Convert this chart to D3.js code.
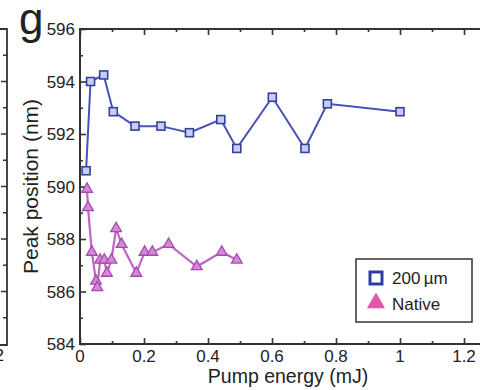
<!DOCTYPE html>
<html>
<head>
<meta charset="utf-8">
<script src="https://cdn.jsdelivr.net/npm/d3@7"></script>
<style>
  html, body { margin: 0; padding: 0; background: #fff; }
  svg { display: block; font-family: "Liberation Sans", Arial, sans-serif; }
</style>
</head>
<body>
<svg id="chart" width="480" height="390"></svg>
<script>
// Peak position vs pump energy, two samples
const energy200 = [0.019, 0.033, 0.074, 0.104, 0.172, 0.253, 0.342, 0.44, 0.49, 0.601, 0.703, 0.773, 1.0];
const peak200   = [590.6, 594.0, 594.25, 592.85, 592.3, 592.3, 592.05, 592.55, 591.45, 593.4, 591.45, 593.15, 592.85];

const energyNative = [0.022, 0.025, 0.037, 0.050, 0.054, 0.063, 0.076, 0.084, 0.098, 0.113, 0.130, 0.176, 0.202, 0.226, 0.277, 0.365, 0.443, 0.49];
const peakNative   = [589.9, 589.2, 587.5, 586.4, 586.15, 587.2, 587.2, 586.7, 587.2, 588.4, 587.8, 586.7, 587.5, 587.5, 587.8, 586.95, 587.5, 587.2];

const xTicks = [0, 0.2, 0.4, 0.6, 0.8, 1, 1.2];
const xTickLabels = ["0", "0.2", "0.4", "0.6", "0.8", "1", "1.2"];
const yTicks = [584, 586, 588, 590, 592, 594, 596];
const seriesNames = ["200\u2009\u00b5m", "Native"];

const svg = d3.select("#chart");
const plotLeft = 80, plotTop = 29, plotBottom = 344;

const x = d3.scaleLinear().domain([0, 1.3]).range([plotLeft, plotLeft + 1.3 * 320]);
const y = d3.scaleLinear().domain([584, 596]).range([plotBottom, plotTop]);

const axisColor = "#333";

// neighbouring panel edge on the far left
const edge = svg.append("g");
edge.append("path")
  .attr("d", `M0,${plotTop}H7V${plotBottom + 1}H0`)
  .attr("fill", "none").attr("stroke", axisColor).attr("stroke-width", 1.8);
edge.selectAll("line.tk").data(d3.range(585, 596, 1)).join("line")
  .attr("x1", 7).attr("x2", d => d % 2 === 0 ? 1 : 3)
  .attr("y1", d => y(d)).attr("y2", d => y(d))
  .attr("stroke", axisColor).attr("stroke-width", 1.5);
edge.append("text").attr("x", 4).attr("y", 361).attr("text-anchor", "end")
  .attr("font-size", 17).attr("fill", "#222").text("1.2");

// frame lines
svg.append("line").attr("x1", plotLeft).attr("x2", 480).attr("y1", plotTop).attr("y2", plotTop)
  .attr("stroke", axisColor).attr("stroke-width", 2);
svg.append("line").attr("x1", plotLeft).attr("x2", 480).attr("y1", plotBottom).attr("y2", plotBottom)
  .attr("stroke", axisColor).attr("stroke-width", 2);
svg.append("line").attr("x1", plotLeft).attr("x2", plotLeft).attr("y1", plotTop - 1).attr("y2", plotBottom + 1)
  .attr("stroke", axisColor).attr("stroke-width", 2);

// bottom axis: inward ticks with labels
const xMinor = d3.range(0.1, 1.3, 0.2);
svg.append("g").attr("transform", `translate(0,${plotBottom})`)
  .call(d3.axisTop(x).tickValues(xTicks).tickSize(6).tickFormat(""))
  .call(g => g.select(".domain").remove())
  .selectAll("line").attr("stroke", axisColor).attr("stroke-width", 1.6);
svg.append("g").attr("transform", `translate(0,${plotBottom})`)
  .call(d3.axisTop(x).tickValues(xMinor).tickSize(3).tickFormat(""))
  .call(g => g.select(".domain").remove())
  .selectAll("line").attr("stroke", axisColor).attr("stroke-width", 1.6);
svg.append("g").selectAll("text").data(xTicks).join("text")
  .attr("x", d => x(d)).attr("y", 362).attr("text-anchor", "middle")
  .attr("font-size", 17).attr("fill", "#222")
  .text((d, i) => xTickLabels[i]);

// top axis ticks
svg.append("g").attr("transform", `translate(0,${plotTop})`)
  .call(d3.axisBottom(x).tickValues(xTicks).tickSize(6).tickFormat(""))
  .call(g => g.select(".domain").remove())
  .selectAll("line").attr("stroke", axisColor).attr("stroke-width", 1.6);
svg.append("g").attr("transform", `translate(0,${plotTop})`)
  .call(d3.axisBottom(x).tickValues(xMinor).tickSize(3).tickFormat(""))
  .call(g => g.select(".domain").remove())
  .selectAll("line").attr("stroke", axisColor).attr("stroke-width", 1.6);

// left axis
svg.append("g").attr("transform", `translate(${plotLeft},0)`)
  .call(d3.axisRight(y).tickValues(yTicks).tickSize(6).tickFormat(""))
  .call(g => g.select(".domain").remove())
  .selectAll("line").attr("stroke", axisColor).attr("stroke-width", 1.6);
svg.append("g").attr("transform", `translate(${plotLeft},0)`)
  .call(d3.axisRight(y).tickValues(d3.range(585, 596, 2)).tickSize(3).tickFormat(""))
  .call(g => g.select(".domain").remove())
  .selectAll("line").attr("stroke", axisColor).attr("stroke-width", 1.6);
svg.append("g").selectAll("text").data(yTicks).join("text")
  .attr("x", 75).attr("y", d => y(d) + 6).attr("text-anchor", "end")
  .attr("font-size", 17).attr("fill", "#222").text(d => d);

// axis titles and panel letter
svg.append("text").attr("x", x(0.65)).attr("y", 383).attr("text-anchor", "middle")
  .attr("font-size", 19.5).attr("fill", "#222").text("Pump energy (mJ)");
svg.append("text").attr("transform", `translate(38,${(plotTop + plotBottom) / 2}) rotate(-90)`)
  .attr("text-anchor", "middle").attr("font-size", 21).attr("fill", "#222")
  .text("Peak position (nm)");
svg.append("text").attr("x", 19).attr("y", 34).attr("font-size", 44).attr("fill", "#222")
  .text("g");

// series
const blue = "#4752b8", blueDark = "#35409f";
const violet = "#c062c6", violetDark = "#a948b0";

const line = d3.line().x(d => x(d[0])).y(d => y(d[1]));
const s200 = energy200.map((e, i) => [e, peak200[i]]);
const sNat = energyNative.map((e, i) => [e, peakNative[i]]);

svg.append("path").datum(sNat).attr("d", line)
  .attr("fill", "none").attr("stroke", violet).attr("stroke-width", 2.2);
const tri = d3.symbol().type(d3.symbolTriangle).size(50);
svg.append("g").selectAll("path").data(sNat).join("path")
  .attr("d", tri)
  .attr("transform", d => `translate(${x(d[0])},${y(d[1])})`)
  .attr("fill", "#d28ad6").attr("stroke", violetDark).attr("stroke-width", 1.3);

svg.append("path").datum(s200).attr("d", line)
  .attr("fill", "none").attr("stroke", blue).attr("stroke-width", 2);
svg.append("g").selectAll("rect").data(s200).join("rect")
  .attr("x", d => x(d[0]) - 4).attr("y", d => y(d[1]) - 4)
  .attr("width", 8).attr("height", 8)
  .attr("fill", "#c9cdf0").attr("stroke", blueDark).attr("stroke-width", 1.6);

// legend
const lg = svg.append("g");
lg.append("rect").attr("x", 356).attr("y", 259).attr("width", 116).attr("height", 63)
  .attr("fill", "#fff").attr("stroke", "#333").attr("stroke-width", 1.5);
lg.append("rect").attr("x", 370).attr("y", 272).attr("width", 12).attr("height", 12)
  .attr("fill", "#fff").attr("stroke", "#2d3ca6").attr("stroke-width", 3);
lg.append("path").attr("d", d3.symbol().type(d3.symbolTriangle).size(120))
  .attr("transform", "translate(376,303)")
  .attr("fill", "#e255a8").attr("stroke", "#e255a8").attr("stroke-width", 1);
lg.selectAll("text").data(seriesNames).join("text")
  .attr("x", 392).attr("y", (d, i) => 284 + i * 26)
  .attr("font-size", 17).attr("fill", "#222").text(d => d);
</script>
</body>
</html>
